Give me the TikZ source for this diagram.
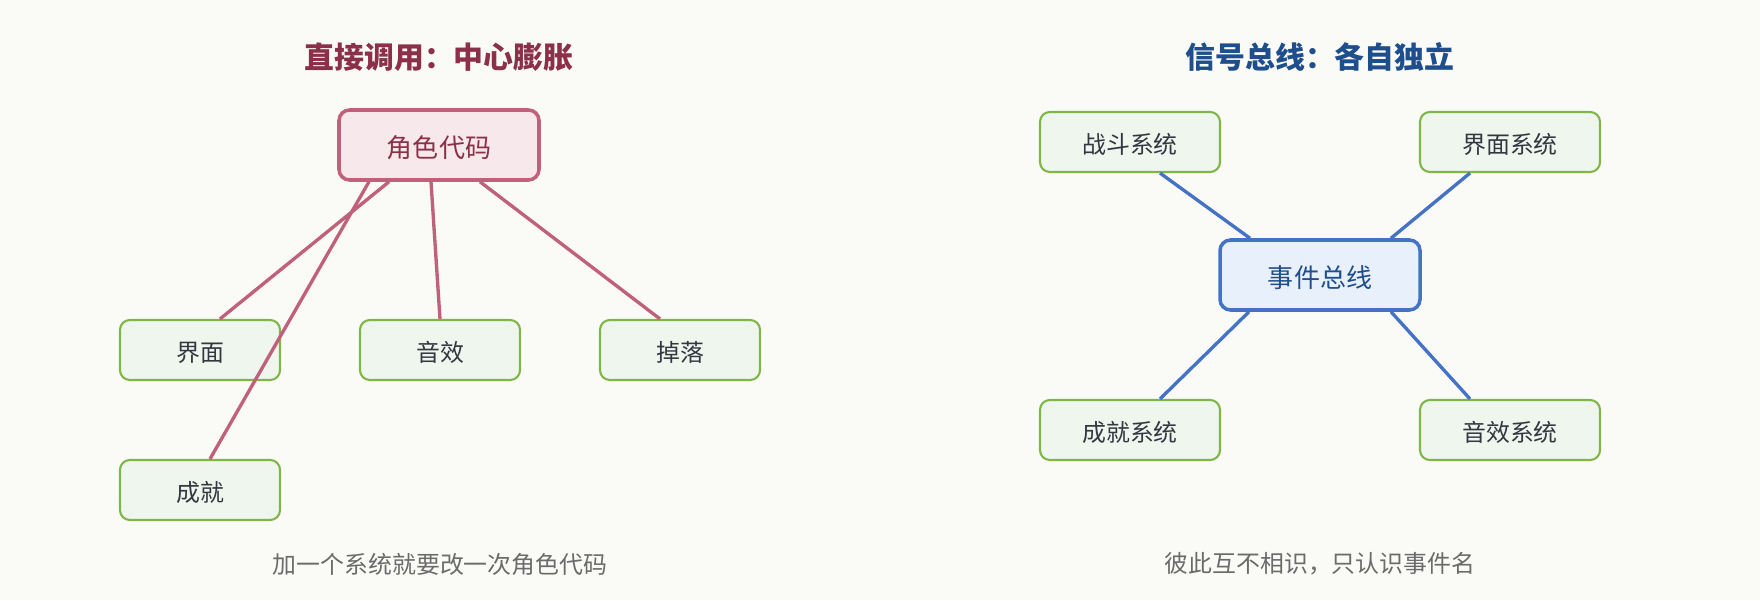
\documentclass[tikz,border=0pt]{standalone}
\usepackage{fontspec}
\setmainfont{Noto Sans CJK SC}
\definecolor{bgcol}{HTML}{FAFAF7}
\definecolor{pinkline}{HTML}{C0607A}
\definecolor{pinkfill}{HTML}{F7E8EC}
\definecolor{pinktext}{HTML}{8B3048}
\definecolor{blueline}{HTML}{4472C4}
\definecolor{bluefill}{HTML}{E8F0FB}
\definecolor{bluetext}{HTML}{1F4E8C}
\definecolor{greenline}{HTML}{80B548}
\definecolor{greenfill}{HTML}{EFF6EE}
\definecolor{bodytext}{HTML}{333840}
\definecolor{notetext}{HTML}{6B6B6B}
\tikzset{
    heading/.style={font=\bfseries\fontsize{8.5pt}{10pt}\selectfont},
    hub/.style={draw,line width=1pt,rounded corners=3pt,minimum width=2cm,minimum height=0.7cm,inner sep=0pt,text height=8pt,text depth=0.8pt,font=\fontsize{7.4pt}{9pt}\selectfont},
    leaf/.style={draw=greenline,fill=greenfill,line width=0.6pt,rounded corners=2.8pt,minimum height=0.6cm,inner sep=0pt,text height=7.4pt,text depth=0.6pt,text=bodytext,font=\fontsize{6.8pt}{8pt}\selectfont},
    note/.style={text=notetext,font=\fontsize{6.8pt}{8pt}\selectfont},
    link/.style={line width=0.95pt}
}
\begin{document}
\begin{tikzpicture}
        \fill[bgcol] (0,0) rectangle (17.6,6);
        \begin{scope}
            \node[heading,text=pinktext] (calltitle) at (4.39,5.43) {直接调用：中心膨胀};
            \node[hub,draw=pinkline,fill=pinkfill,text=pinktext] (role) at (4.39,4.55) {角色代码};
            \node[leaf,minimum width=1.6cm] (ui) at (2.0,2.5) {界面};
            \node[leaf,minimum width=1.6cm] (sound) at (4.4,2.5) {音效};
            \node[leaf,minimum width=1.6cm] (loot) at (6.8,2.5) {掉落};
            \node[leaf,minimum width=1.6cm] (achieve) at (2.0,1.1) {成就};
            \draw[link,pinkline] ([xshift=-0.5cm]role.south) -- ([xshift=0.2cm]ui.north);
            \draw[link,pinkline] ([xshift=-0.08cm]role.south) -- (sound.north);
            \draw[link,pinkline] ([xshift=0.41cm]role.south) -- ([xshift=-0.2cm]loot.north);
            \draw[link,pinkline] ([xshift=-0.7cm]role.south) -- ([xshift=0.1cm]achieve.north);
            \node[note] (callnote) at (4.4,0.36) {加一个系统就要改一次角色代码};
        \end{scope}
        \begin{scope}
            \node[heading,text=bluetext] (bustitle) at (13.2,5.43) {信号总线：各自独立};
            \node[hub,draw=blueline,fill=bluefill,text=bluetext] (bus) at (13.2,3.25) {事件总线};
            \node[leaf,minimum width=1.8cm] (battle) at (11.3,4.58) {战斗系统};
            \node[leaf,minimum width=1.8cm] (uisys) at (15.1,4.58) {界面系统};
            \node[leaf,minimum width=1.8cm] (achsys) at (11.3,1.7) {成就系统};
            \node[leaf,minimum width=1.8cm] (soundsys) at (15.1,1.7) {音效系统};
            \draw[link,blueline] ([xshift=0.3cm]battle.south) -- ([xshift=-0.7cm]bus.north);
            \draw[link,blueline] ([xshift=-0.4cm]uisys.south) -- ([xshift=0.71cm]bus.north);
            \draw[link,blueline] ([xshift=-0.71cm]bus.south) -- ([xshift=0.3cm]achsys.north);
            \draw[link,blueline] ([xshift=0.71cm]bus.south) -- ([xshift=-0.4cm]soundsys.north);
            \node[note] (busnote) at (13.2,0.36) {彼此互不相识，只认识事件名};
        \end{scope}
    \end{tikzpicture}
\end{document}
